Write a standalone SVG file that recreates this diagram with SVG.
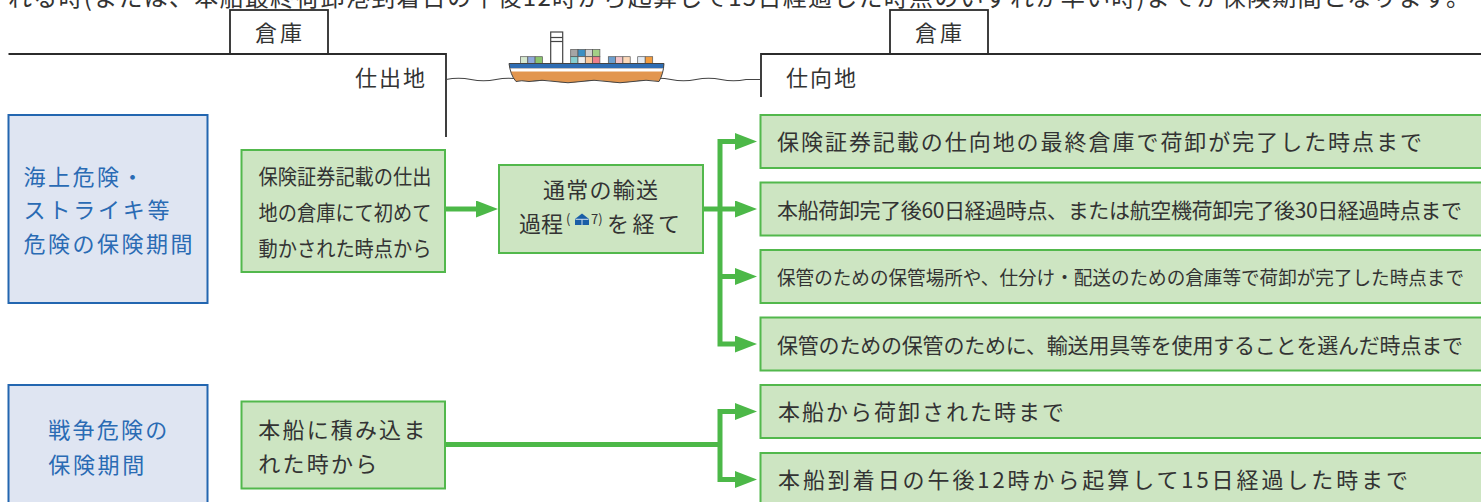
<svg xmlns="http://www.w3.org/2000/svg" width="1481" height="502" viewBox="0 0 1481 502">
<style>
text{font-family:"Noto Sans CJK JP","Noto Sans",sans-serif;fill:#333}
.t22{font-size:22px}
.t21{font-size:21px}
.t19{font-size:18.8px}
.blue{fill:#2a6bb4;font-size:22px}
.gbox{fill:#cde5c2;stroke:#52b84c;stroke-width:2}
.bbox{fill:#dfe5f2;stroke:#2366b0;stroke-width:2}
.ln{fill:none;stroke:#2b2b2b;stroke-width:1.8}
.conn{fill:none;stroke:#4cb848;stroke-width:5}
.ct{stroke:#555;stroke-width:0.7}
</style>
<defs>
<marker id="ah" markerUnits="userSpaceOnUse" markerWidth="22" markerHeight="17" viewBox="0 0 22 17" refX="0" refY="8.5" orient="auto-start-reverse">
<path d="M0,0 L22,8.5 L0,17 Z" fill="#4cb848"/>
</marker>
<clipPath id="hullClip">
<path d="M509,63.5 H664 C663.5,71 662,76 659,81.5 Q646,79 633,81.5 T607,81.5 T581,81.5 T555,81.5 T529,81.5 Q521,80 516,81.5 C512,77 510,71 509,63.5 Z"/>
</clipPath>
</defs>
<rect width="1481" height="502" fill="#ffffff"/>

<g id="intro">
<text x="8" y="6" font-size="24" textLength="1462" lengthAdjust="spacing">れる時(または、本船最終荷卸港到着日の午後12時から起算して15日経過した時点のいずれか早い時)までが保険期間となります。</text>
</g>

<g id="origin">
<path class="ln" d="M8.5,54 H446 V137"/>
<rect x="230" y="10" width="98" height="44" fill="#fff" class="ln"/>
<text class="t22" x="255" y="41" textLength="47">倉庫</text>
<text class="t22" x="355" y="85.5" textLength="70">仕出地</text>
</g>

<g id="destination">
<path class="ln" d="M761,97 V54 H1481"/>
<rect x="890" y="10" width="98" height="44" fill="#fff" class="ln"/>
<text class="t22" x="915" y="41" textLength="47">倉庫</text>
<text class="t22" x="786" y="85.5" textLength="70">仕向地</text>
</g>

<g id="sea">
<path d="M446,79.5 Q458.5,77 471,79.5 T496,79.5 T521,79.5 T546,79.5 T571,79.5 T596,79.5 T621,79.5 T646,79.5 T671,79.5 T696,79.5 T721,79.5 T746,79.5 L761,79.5" fill="none" stroke="#444" stroke-width="1.2"/>
</g>

<g id="ship">
<rect x="550.7" y="32" width="12" height="31.5" fill="#fff" stroke="#444" stroke-width="1.2"/>
<line x1="550.7" y1="37.5" x2="562.7" y2="37.5" stroke="#444" stroke-width="1.2"/>
<line x1="550.7" y1="41.5" x2="562.7" y2="41.5" stroke="#444" stroke-width="1.2"/>
<rect class="ct" x="520.5" y="56.7" width="7.3" height="6.8" fill="#d5e8cf"/>
<rect class="ct" x="527.8" y="56.7" width="7.3" height="6.8" fill="#8fa9dc"/>
<rect class="ct" x="535.1" y="56.7" width="7.3" height="6.8" fill="#8cc56e"/>
<rect class="ct" x="570.7" y="49.5" width="7.3" height="7.2" fill="#a5a5a5"/>
<rect class="ct" x="578" y="49.5" width="7.3" height="7.2" fill="#3b8fc2"/>
<rect class="ct" x="585.3" y="49.5" width="7.3" height="7.2" fill="#d0d0d0"/>
<rect class="ct" x="592.6" y="49.5" width="7.3" height="7.2" fill="#a3cf86"/>
<rect class="ct" x="570.7" y="56.7" width="7.3" height="6.8" fill="#86cfcf"/>
<rect class="ct" x="578" y="56.7" width="7.3" height="6.8" fill="#eeeeee"/>
<rect class="ct" x="585.3" y="56.7" width="7.3" height="6.8" fill="#f9c799"/>
<rect class="ct" x="592.6" y="56.7" width="7.3" height="6.8" fill="#ef7f8a"/>
<rect class="ct" x="608.3" y="56.7" width="7.3" height="6.8" fill="#6c9fcf"/>
<rect class="ct" x="615.6" y="56.7" width="7.3" height="6.8" fill="#f4c4c8"/>
<rect class="ct" x="622.9" y="56.7" width="7.3" height="6.8" fill="#fcd8b8"/>
<rect class="ct" x="637.7" y="56.7" width="7.5" height="6.8" fill="#e4ebf3"/>
<rect class="ct" x="645.2" y="56.7" width="7.5" height="6.8" fill="#f39c3e"/>
<g clip-path="url(#hullClip)">
<rect x="505" y="60" width="165" height="25" fill="#e2964f"/>
<rect x="505" y="60" width="165" height="8.5" fill="#2f6db3"/>
<rect x="505" y="68.5" width="165" height="3" fill="#ffffff"/>
</g>
<path d="M509,63.5 H664 C663.5,71 662,76 659,81.5 Q646,79 633,81.5 T607,81.5 T581,81.5 T555,81.5 T529,81.5 Q521,80 516,81.5 C512,77 510,71 509,63.5 Z" fill="none" stroke="#444" stroke-width="1"/>
</g>

<g id="connectors">
<path class="conn" d="M445,209 H476" marker-end="url(#ah)"/>
<path class="conn" d="M703,209 H720"/>
<path class="conn" d="M735,141.5 H720 V344 H735" marker-start="url(#ah)" marker-end="url(#ah)"/>
<path class="conn" d="M720,209 H735" marker-end="url(#ah)"/>
<path class="conn" d="M720,276.5 H735" marker-end="url(#ah)"/>
<path class="conn" d="M445,444.5 H720"/>
<path class="conn" d="M735,411.5 H720 V479.5 H735" marker-start="url(#ah)" marker-end="url(#ah)"/>
</g>

<g id="marine-period">
<rect class="bbox" x="8.5" y="115" width="199" height="188"/>
<text class="blue" x="23.6" y="185" textLength="120">海上危険・</text>
<text class="blue" x="23.6" y="218" textLength="146">ストライキ等</text>
<text class="blue" x="23.6" y="251.5" textLength="169">危険の保険期間</text>
</g>

<g id="marine-start">
<rect class="gbox" x="241.5" y="150" width="203.5" height="122"/>
<text class="t21" x="258.5" y="184" textLength="173" lengthAdjust="spacingAndGlyphs">保険証券記載の仕出</text>
<text class="t21" x="258.5" y="220" textLength="173" lengthAdjust="spacingAndGlyphs">地の倉庫にて初めて</text>
<text class="t21" x="258.5" y="256" textLength="173" lengthAdjust="spacingAndGlyphs">動かされた時点から</text>
</g>

<g id="transit">
<rect class="gbox" x="499" y="165" width="204" height="88"/>
<text class="t22" x="543" y="198" textLength="115">通常の輸送</text>
<text class="t22" x="519" y="232" textLength="44">過程</text>
<text x="566" y="224" font-size="13">(</text>
<polygon points="582,213.5 589,219 589,225 575,225 575,219" fill="#1a5ea6"/>
<line x1="575.5" y1="219.3" x2="588.5" y2="219.3" stroke="#fff" stroke-width="0.8"/>
<line x1="582" y1="219.5" x2="582" y2="225" stroke="#fff" stroke-width="0.8"/>
<text x="591" y="224" font-size="13">7)</text>
<text class="t22" x="607" y="232" textLength="73">を経て</text>
</g>

<g id="marine-end-1">
<rect class="gbox" x="760.5" y="115" width="740" height="53"/>
<text class="t22" x="777" y="150" textLength="645">保険証券記載の仕向地の最終倉庫で荷卸が完了した時点まで</text>
</g>
<g id="marine-end-2">
<rect class="gbox" x="760.5" y="182.5" width="740" height="53"/>
<text class="t21" x="777" y="217.5" textLength="685">本船荷卸完了後60日経過時点、または航空機荷卸完了後30日経過時点まで</text>
</g>
<g id="marine-end-3">
<rect class="gbox" x="760.5" y="250" width="740" height="53"/>
<text class="t19" x="777" y="285" textLength="687" lengthAdjust="spacingAndGlyphs">保管のための保管場所や、仕分け・配送のための倉庫等で荷卸が完了した時点まで</text>
</g>
<g id="marine-end-4">
<rect class="gbox" x="760.5" y="317.5" width="740" height="53"/>
<text class="t21" x="777" y="352.5" textLength="686">保管のための保管のために、輸送用具等を使用することを選んだ時点まで</text>
</g>

<g id="war-period">
<rect class="bbox" x="8.5" y="385" width="199" height="130"/>
<text class="blue" x="48.3" y="437.5" textLength="119">戦争危険の</text>
<text class="blue" x="48.3" y="472.5" textLength="96">保険期間</text>
</g>

<g id="war-start">
<rect class="gbox" x="241.5" y="401.5" width="203.5" height="87"/>
<text class="t22" x="258.3" y="437.5" textLength="167">本船に積み込ま</text>
<text class="t22" x="258.3" y="472" textLength="119">れた時から</text>
</g>

<g id="war-end-1">
<rect class="gbox" x="760.5" y="385" width="740" height="53"/>
<text class="t22" x="778" y="420" textLength="286">本船から荷卸された時まで</text>
</g>
<g id="war-end-2">
<rect class="gbox" x="760.5" y="453" width="740" height="53"/>
<text class="t22" x="778" y="487.5" textLength="630">本船到着日の午後12時から起算して15日経過した時まで</text>
</g>
</svg>
